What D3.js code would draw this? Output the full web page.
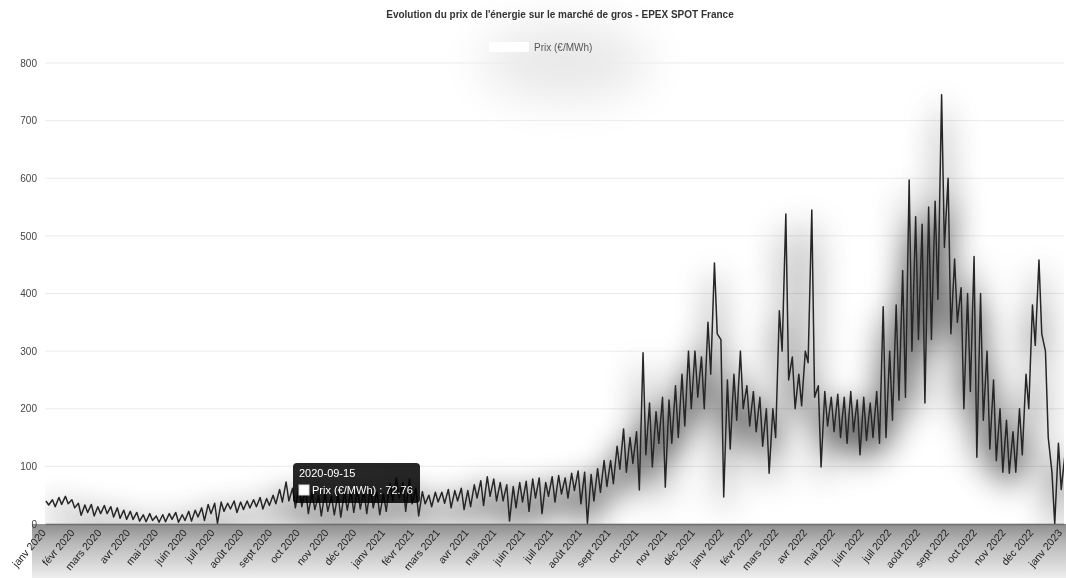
<!DOCTYPE html>
<html>
<head>
<meta charset="utf-8">
<script src="https://cdn.jsdelivr.net/npm/d3@7"></script>
<style>
  body { margin: 0; background: #fff; font-family: "Liberation Sans", Arial, sans-serif; }
  #chart { filter: blur(0.45px); }
</style>
</head>
<body>
<svg id="chart" width="1066" height="578"></svg>
<script>
const svg = d3.select('#chart');

// Data : un haut (milieu de semaine) et un bas (week-end) par semaine
const debut = new Date(2020, 0, 1);
const fin = new Date(2023, 0, 4);

const hauts = [
  // 2020
  40, 42, 46, 48, 42,  36, 33, 34, 30,  32, 30, 28, 24,  22, 20, 16, 18, 14,
  16, 18, 20, 16,  22, 24, 28, 34,  36, 38, 36, 40, 38,  40, 42, 46, 44,
  50, 60, 73, 62, 64,  62, 55, 50, 55,  48, 52, 56, 58,  60, 58, 62, 56, 52,
  // 2021
  70, 80, 72, 78,  62, 56, 50, 55,  55, 60, 58, 62, 58,  68, 75, 82, 78,
  72, 68, 65, 72,  74, 78, 80, 72, 82,  84, 80, 88, 92,  90, 86, 96, 110,
  110, 135, 165, 150, 160,  297, 210, 195, 220,  215, 240, 260, 300,  300, 290, 350, 453, 320,
  // 2022
  250, 260, 300, 240,  230, 220, 200, 200,  370, 538, 290, 260, 300,  545, 240, 230, 220,
  225, 220, 230, 215,  220, 210, 230, 377, 300,  380, 440, 597, 533,  520, 550, 560, 745, 600,
  460, 410, 400, 464,  400, 300, 250, 200,  180, 160, 200, 260,  380, 458, 300, 90, 140,
  // 2023
  120
];

const bas = [
  // 2020
  33, 30, 34, 35, 28,  15, 20, 14, 18,  18, 12, 10, 8,  8, 5, 4, 6, 3,
  4, 8, 3, 6,  5, 12, 6, 18,  1, 22, 26, 20, 25,  28, 30, 26, 32,
  35, 38, 40, 28, 30,  18, 25, 14, 22,  16, 12, 24, 20,  26, 18, 28, 16, 22,
  // 2021
  40, 45, 22, 35,  14, 35, 30, 38,  36, 28, 40, 25, 30,  45, 32, 48, 40,
  40, 5, 28, 38,  22, 45, 18, 48, 38,  52, 45, 58, 35,  1, 40, 55, 65,
  70, 95, 90, 105, 59,  120, 99, 140, 64,  140, 150, 170, 200,  220, 200, 260, 330, 47,
  // 2022
  130, 180, 200, 170,  160, 135, 88, 150,  300, 250, 200, 205, 280,  220, 99, 170, 160,
  150, 140, 160, 120,  145, 150, 140, 150, 180,  215, 220, 300, 320,  210, 320, 390, 480, 330,
  350, 200, 230, 116,  180, 130, 110, 90,  88, 90, 120, 200,  310, 330, 150, 0, 60,
  // 2023
  60
];

const mois = ['janv', 'févr', 'mars', 'avr', 'mai', 'juin', 'juil', 'août', 'sept', 'oct', 'nov', 'déc'];
const yTicks = [0, 100, 200, 300, 400, 500, 600, 700, 800];

const titre = "Evolution du prix de l'énergie sur le marché de gros - EPEX SPOT France";
const legende = 'Prix (€/MWh)';
const infoDate = '2020-09-15';
const infoValeur = 72.76;

// points : haut le jeudi, bas le dimanche
let serie = [];
hauts.forEach((h, i) => {
  serie.push({ date: d3.timeDay.offset(debut, 7 * i + 1), prix: h });
  serie.push({ date: d3.timeDay.offset(debut, 7 * i + 4), prix: bas[i] });
});

const margin = { top: 63, bottom: 54, left: 45, right: 2 };
const width = 1066, height = 578;
const innerRight = width - margin.right;
const innerBottom = height - margin.bottom;

const xScale = d3.scaleTime()
  .domain([debut, fin])
  .range([margin.left, innerRight]);

const yScale = d3.scaleLinear()
  .domain([0, 800])
  .range([innerBottom, margin.top]);

const defs = svg.append('defs');

// ombre grise et floue autour de la courbe
const ombre = defs.append('filter').attr('id', 'ombre')
  .attr('filterUnits', 'userSpaceOnUse')
  .attr('x', 0).attr('y', 0).attr('width', width).attr('height', innerBottom + 2);
ombre.append('feGaussianBlur').attr('in', 'SourceAlpha').attr('stdDeviation', 16);
ombre.append('feOffset').attr('dy', 12);
ombre.append('feComponentTransfer').append('feFuncA').attr('type', 'linear').attr('slope', 1.5);
const merge = ombre.append('feMerge');
merge.append('feMergeNode');
merge.append('feMergeNode').attr('in', 'SourceGraphic');

const halo = defs.append('filter').attr('id', 'halo')
  .attr('x', '-100%').attr('y', '-100%').attr('width', '300%').attr('height', '300%');
halo.append('feGaussianBlur').attr('stdDeviation', 24);

const grad = defs.append('linearGradient').attr('id', 'bande')
  .attr('x1', 0).attr('y1', 0).attr('x2', 0).attr('y2', 1);
grad.append('stop').attr('offset', '0%').attr('stop-color', '#8e8e8e');
grad.append('stop').attr('offset', '35%').attr('stop-color', '#b8b8b8');
grad.append('stop').attr('offset', '100%').attr('stop-color', '#eeeeee');

defs.append('clipPath').attr('id', 'zone')
  .append('rect')
  .attr('x', margin.left).attr('y', 0)
  .attr('width', innerRight - margin.left).attr('height', innerBottom + 1);

// halo sous la légende
svg.append('ellipse')
  .attr('cx', 565).attr('cy', 62).attr('rx', 85).attr('ry', 38)
  .attr('fill', '#000').attr('opacity', 0.09)
  .attr('filter', 'url(#halo)');

// bande grise sous l'axe
svg.append('rect')
  .attr('x', 32).attr('y', innerBottom)
  .attr('width', width - 32).attr('height', height - innerBottom)
  .attr('fill', 'url(#bande)');

// grille
svg.append('g')
  .selectAll('line')
  .data(yTicks)
  .enter().append('line')
    .attr('x1', margin.left).attr('x2', innerRight)
    .attr('y1', d => yScale(d)).attr('y2', d => yScale(d))
    .attr('stroke', '#ebebeb')
    .attr('stroke-width', 1);

// axe y
const yAxis = d3.axisLeft(yScale).tickValues(yTicks).tickSize(0).tickPadding(8);
const yAxisG = svg.append('g')
  .attr('transform', `translate(${margin.left}, 0)`)
  .call(yAxis);
yAxisG.selectAll('.domain').remove();
yAxisG.selectAll('text')
  .attr('font-size', '10px')
  .attr('fill', '#444')
  .attr('font-family', '"Liberation Sans", Arial, sans-serif');

// courbe
const lineGenerator = d3.line()
  .x(d => xScale(d.date))
  .y(d => yScale(d.prix));

svg.append('g')
  .attr('clip-path', 'url(#zone)')
  .append('path')
    .attr('d', lineGenerator(serie))
    .attr('fill', 'none')
    .attr('stroke', '#262626')
    .attr('stroke-width', 1.5)
    .attr('stroke-linejoin', 'round')
    .attr('filter', 'url(#ombre)');

// axe x
const xAxis = d3.axisBottom(xScale)
  .ticks(d3.timeMonth.every(1))
  .tickFormat(d => `${mois[d.getMonth()]} ${d.getFullYear()}`)
  .tickSize(0)
  .tickPadding(0);

const xAxisG = svg.append('g')
  .attr('transform', `translate(0, ${innerBottom})`)
  .call(xAxis);
xAxisG.select('.domain')
  .attr('stroke', '#6f6f6f')
  .attr('stroke-width', 1.5);
xAxisG.selectAll('text')
  .attr('font-size', '10.5px')
  .attr('fill', '#222')
  .attr('font-family', '"Liberation Sans", Arial, sans-serif')
  .attr('text-anchor', 'end')
  .attr('dy', 0)
  .attr('transform', 'translate(1, 9) rotate(-50)');

// titre
svg.append('text')
  .attr('x', 560).attr('y', 18)
  .attr('text-anchor', 'middle')
  .attr('font-size', '10px')
  .attr('font-weight', 'bold')
  .attr('fill', '#333')
  .text(titre);

// légende
svg.append('rect')
  .attr('x', 489).attr('y', 42).attr('width', 40).attr('height', 10)
  .attr('fill', '#fff');
svg.append('text')
  .attr('x', 534).attr('y', 50.5)
  .attr('font-size', '10px')
  .attr('fill', '#555')
  .text(legende);

// infobulle
const tip = svg.append('g').attr('transform', 'translate(293, 463)');
tip.append('rect')
  .attr('width', 127).attr('height', 40).attr('rx', 4)
  .attr('fill', 'rgba(0,0,0,0.85)');
tip.append('text')
  .attr('x', 6).attr('y', 14)
  .attr('font-size', '11px')
  .attr('fill', '#fff')
  .text(infoDate);
tip.append('rect')
  .attr('x', 6).attr('y', 22).attr('width', 10).attr('height', 10)
  .attr('fill', '#fff').attr('stroke', '#ddd');
tip.append('text')
  .attr('x', 19).attr('y', 31)
  .attr('font-size', '11px')
  .attr('fill', '#fff')
  .text(`${legende} : ${infoValeur}`);
</script>
</body>
</html>
